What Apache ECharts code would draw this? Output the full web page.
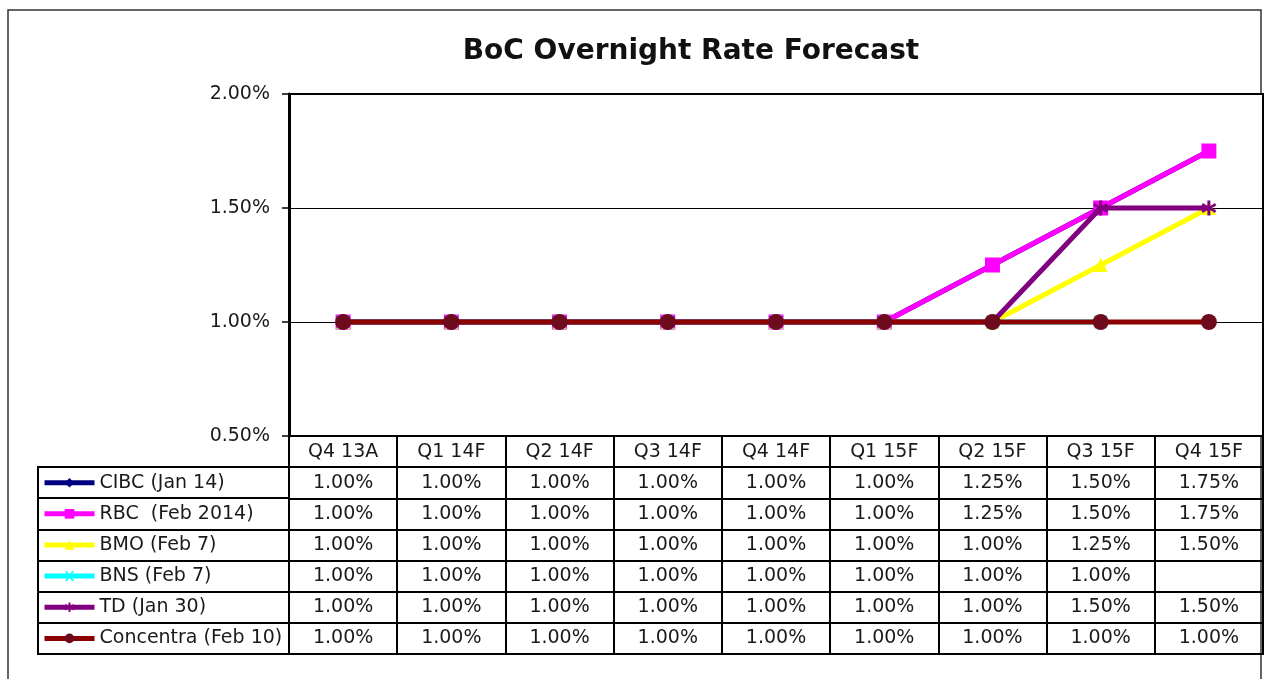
<!DOCTYPE html>
<html>
<head>
<meta charset="utf-8">
<title>BoC Overnight Rate Forecast</title>
<script src="https://cdn.jsdelivr.net/npm/echarts@6/dist/echarts.min.js"></script>
<style>
  html, body { margin: 0; padding: 0; background: #fff; }
  #chart { width: 1267px; height: 679px; }
</style>
</head>
<body>
<div id="chart"></div>
<script>
// quarters shown on the x axis and as table header
const categories = ['Q4 13A', 'Q1 14F', 'Q2 14F', 'Q3 14F', 'Q4 14F', 'Q1 15F', 'Q2 15F', 'Q3 15F', 'Q4 15F']

// forecasts (%)
const seriesNames = ['CIBC (Jan 14)', 'RBC  (Feb 2014)', 'BMO (Feb 7)', 'BNS (Feb 7)', 'TD (Jan 30)', 'Concentra (Feb 10)']
const cibc = [1.00, 1.00, 1.00, 1.00, 1.00, 1.00, 1.25, 1.50, 1.75]
const rbc = [1.00, 1.00, 1.00, 1.00, 1.00, 1.00, 1.25, 1.50, 1.75]
const bmo = [1.00, 1.00, 1.00, 1.00, 1.00, 1.00, 1.00, 1.25, 1.50]
const bns = [1.00, 1.00, 1.00, 1.00, 1.00, 1.00, 1.00, 1.00, null]
const td = [1.00, 1.00, 1.00, 1.00, 1.00, 1.00, 1.00, 1.50, 1.50]
const concentra = [1.00, 1.00, 1.00, 1.00, 1.00, 1.00, 1.00, 1.00, 1.00]

const seriesValues = [cibc, rbc, bmo, bns, td, concentra]

const FONT = "'DejaVu Sans', Verdana, sans-serif"
const fmt = v => v.toFixed(2) + '%'

// 绘图样式
const styles = [
  { color: '#000080', symbol: 'diamond', size: 13 },
  { color: '#ff00ff', symbol: 'rect', size: 15 },
  { color: '#ffff00', symbol: 'triangle', size: 14 },
  { color: '#00ffff', symbol: 'path://M0,0L2,0L5,3L8,0L10,0L6,5L10,10L8,10L5,7L2,10L0,10L4,5Z', size: 13 },
  { color: '#800080', symbol: 'path://M4,0L6,0L6,3.6L9,1.6L10,3.4L7,5L10,6.6L9,8.4L6,6.4L6,10L4,10L4,6.4L1,8.4L0,6.6L3,5L0,3.4L1,1.6L4,3.6Z', size: 15 },
  { color: '#8b0000', symbol: 'circle', size: 16 }
]

// 表格行: 第 0 行是表头
const tableRows = ['hdr'].concat(seriesNames)

const headerCells = categories.map((c, i) => [i, 0, c])
const valueCells = []
seriesValues.forEach((vals, r) => {
  vals.forEach((v, i) => {
    if (v !== null) valueCells.push([i, r + 1, fmt(v)])
  })
})

const lineSeries = seriesNames.map((name, k) => ({
  name: name,
  type: 'line',
  xAxisIndex: 0,
  yAxisIndex: 0,
  data: seriesValues[k],
  symbol: styles[k].symbol,
  symbolSize: styles[k].size,
  showAllSymbol: true,
  lineStyle: { color: styles[k].color, width: 5 },
  itemStyle: { color: k === 5 ? '#6e0b1c' : styles[k].color },
  z: 3 + k
}))

const chart = echarts.init(document.getElementById('chart'))

const option = {
  animation: false,
  textStyle: { fontFamily: FONT },
  title: {
    text: 'BoC Overnight Rate Forecast',
    left: 686,
    top: 33,
    textAlign: 'center',
    textStyle: { fontFamily: FONT, fontWeight: 'bold', fontSize: 28, color: '#111' }
  },
  legend: {
    data: seriesNames,
    orient: 'vertical',
    left: 42,
    top: 471.7,
    padding: 0,
    itemWidth: 50,
    itemHeight: 12,
    itemGap: 9.14,
    selectedMode: false,
    lineStyle: { width: 5 },
    textStyle: { fontFamily: FONT, fontSize: 19, color: '#1a1a1a', lineHeight: 22 }
  },
  grid: [
    // plot area
    { left: 289, top: 94, width: 974, height: 342, show: true, borderColor: '#000', borderWidth: 2, backgroundColor: '#fff' },
    // data table
    { left: 289, top: 436, width: 974, height: 218, show: true, borderColor: '#000', borderWidth: 2 },
    // legend column
    { left: 38, top: 467, width: 251, height: 187, show: true, borderColor: '#000', borderWidth: 2 }
  ],
  xAxis: [
    {
      gridIndex: 0,
      type: 'category',
      data: categories,
      boundaryGap: true,
      axisLine: { show: true, lineStyle: { color: '#000', width: 2 } },
      axisTick: { show: false },
      axisLabel: { show: false },
      splitLine: { show: false }
    },
    {
      gridIndex: 1,
      type: 'category',
      data: categories,
      boundaryGap: true,
      axisLine: { show: false },
      axisTick: { show: false },
      axisLabel: { show: false },
      splitLine: { show: true, interval: 0, lineStyle: { color: '#000', width: 2 } }
    },
    {
      gridIndex: 2,
      type: 'category',
      data: ['legend'],
      axisLine: { show: false },
      axisTick: { show: false },
      axisLabel: { show: false },
      splitLine: { show: false }
    }
  ],
  yAxis: [
    {
      gridIndex: 0,
      type: 'value',
      min: 0.5,
      max: 2.0,
      interval: 0.5,
      axisLine: { show: true, lineStyle: { color: '#000', width: 3 } },
      axisTick: { show: true, length: 7, lineStyle: { color: '#000', width: 1.5 } },
      axisLabel: { formatter: fmt, fontFamily: FONT, fontSize: 19, color: '#1a1a1a', margin: 19 },
      splitLine: { show: true, lineStyle: { color: '#000', width: 1.2 } }
    },
    {
      gridIndex: 1,
      type: 'category',
      data: tableRows,
      inverse: true,
      boundaryGap: true,
      axisLine: { show: false },
      axisTick: { show: false },
      axisLabel: { show: false },
      splitLine: { show: true, interval: 0, lineStyle: { color: '#000', width: 2 } }
    },
    {
      gridIndex: 2,
      type: 'category',
      data: seriesNames,
      inverse: true,
      boundaryGap: true,
      axisLine: { show: false },
      axisTick: { show: false },
      axisLabel: { show: false },
      splitLine: { show: true, interval: 0, lineStyle: { color: '#000', width: 2 } }
    }
  ],
  series: lineSeries.concat([
    {
      name: 'cells',
      type: 'scatter',
      xAxisIndex: 1,
      yAxisIndex: 1,
      symbolSize: 0,
      silent: true,
      itemStyle: { opacity: 1 },
      data: headerCells.concat(valueCells),
      label: {
        show: true,
        position: 'inside',
        formatter: p => p.value[2],
        fontFamily: FONT,
        fontSize: 19,
        color: '#1a1a1a'
      }
    }
  ]),
  graphic: [
    {
      type: 'rect',
      z: -10,
      shape: { x: 8, y: 10, width: 1253, height: 700 },
      style: { fill: 'none', stroke: '#333', lineWidth: 1.5 }
    }
  ]
}

chart.setOption(option)
</script>
</body>
</html>
